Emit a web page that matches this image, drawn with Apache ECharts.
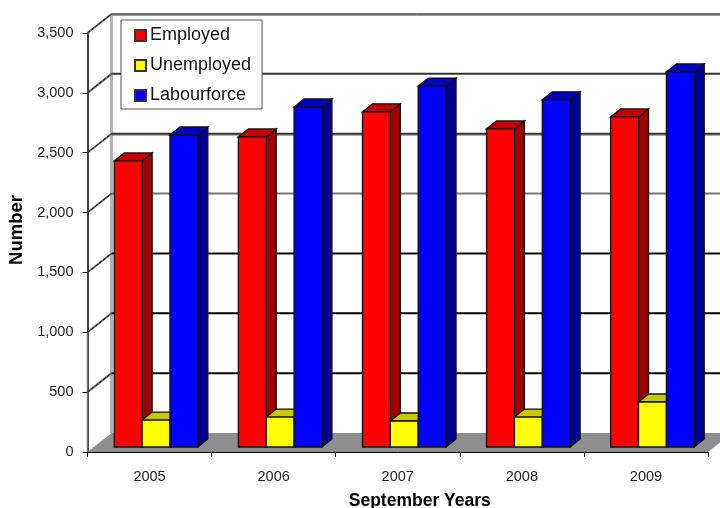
<!DOCTYPE html>
<html>
<head>
<meta charset="utf-8">
<style>html,body{margin:0;padding:0;background:#fff}#chart{width:720px;height:508px}</style>
<script src="https://cdn.jsdelivr.net/npm/echarts@6/dist/echarts.min.js"></script>
</head>
<body>
<div id="chart"></div>
<script>
// Labour market counts for each September year
const years = ['2005', '2006', '2007', '2008', '2009'];
const employed = [2390, 2590, 2800, 2657, 2757];
const unemployed = [225, 250, 217, 250, 376];
const labourforce = [2606, 2840, 3015, 2900, 3133];
const valueTicks = [0, 500, 1000, 1500, 2000, 2500, 3000, 3500];

// Pseudo-3D projection: pixel offset from the front plane to the back wall
const WALL_DX = 24, WALL_DY = -19;
// Bars stand slightly behind the front edge of the floor and have their own depth
const BAR_DX = 6.5, BAR_DY = -5;
const DEPTH_DX = 10, DEPTH_DY = -8;
const BAR_FRACTION = 0.2245;
const LINE = '#111111';

// Back-wall gridline appearance per tick value
const GRID_STYLES = {
  500: { main: '#000000' },
  1000: { main: '#000000' },
  1500: { main: '#000000' },
  2000: { main: '#777777' },
  2500: { main: '#333333', under: '#8a8a8a' },
  3000: { main: '#333333' },
  3500: { main: '#6e6e6e', under: '#999999' }
};

function poly(points, fill) {
  return {
    type: 'polygon',
    shape: { points: points },
    style: { fill: fill, stroke: LINE, lineWidth: 1.3 }
  };
}

function barSeries(name, values, slot, front, top, side) {
  return {
    name: name,
    type: 'custom',
    clip: false,
    z: 5,
    itemStyle: { color: front, borderColor: '#333', borderWidth: 1 },
    data: values.map((v, i) => [i, v]),
    encode: { x: 0, y: 1 },
    renderItem: function (params, api) {
      const cat = api.value(0);
      const width = api.size([1, 0])[0] * BAR_FRACTION;
      const c = api.coord([cat, api.value(1)]);
      const b = api.coord([cat, 0]);
      const x0 = c[0] + BAR_DX + (slot - 1.5) * width;
      const x1 = x0 + width;
      const yt = c[1] + BAR_DY;
      const yb = b[1] + BAR_DY;
      return {
        type: 'group',
        children: [
          poly([[x1, yb], [x1 + DEPTH_DX, yb + DEPTH_DY], [x1 + DEPTH_DX, yt + DEPTH_DY], [x1, yt]], side),
          poly([[x0, yt], [x1, yt], [x1 + DEPTH_DX, yt + DEPTH_DY], [x0 + DEPTH_DX, yt + DEPTH_DY]], top),
          poly([[x0, yb], [x1, yb], [x1, yt], [x0, yt]], front)
        ]
      };
    }
  };
}

// Floor, back wall and the gridlines running over the side and back walls
const wallSeries = {
  type: 'custom',
  clip: false,
  silent: true,
  z: 1,
  data: valueTicks.map(v => [0, v]),
  encode: { y: 1 },
  renderItem: function (params, api) {
    const v = api.value(1);
    const rect = params.coordSys;
    const left = rect.x, right = rect.x + rect.width;
    const y = api.coord([0, v])[1];
    const children = [];
    if (v === 0) {
      children.push({
        type: 'polygon',
        shape: { points: [[left, y], [right, y], [right + WALL_DX, y + WALL_DY], [left + WALL_DX, y + WALL_DY]] },
        style: { fill: '#8f8f8f', stroke: null }
      });
      children.push({
        type: 'line',
        shape: { x1: left + WALL_DX, y1: rect.y + WALL_DY, x2: left + WALL_DX, y2: y + WALL_DY },
        style: { stroke: '#b4b4b4', lineWidth: 3 }
      });
      // The lower stretch of the value axis reads lighter than the rest
      children.push({
        type: 'line',
        shape: { x1: left, y1: api.coord([0, 1000])[1], x2: left, y2: y },
        style: { stroke: '#707070', lineWidth: 1.5 }
      });
      return { type: 'group', children: children };
    }
    const by = y + WALL_DY;
    const s = GRID_STYLES[v];
    if (s.under) {
      children.push({
        type: 'line',
        shape: { x1: left + WALL_DX, y1: by + 1.5, x2: right + WALL_DX, y2: by + 1.5 },
        style: { stroke: s.under, lineWidth: 1 }
      });
    }
    children.push({
      type: 'line',
      shape: { x1: left + WALL_DX, y1: by, x2: right + WALL_DX, y2: by },
      style: { stroke: s.main, lineWidth: 2 }
    });
    children.push({
      type: 'line',
      shape: { x1: left, y1: y, x2: left + WALL_DX, y2: by },
      style: { stroke: '#666', lineWidth: 2 }
    });
    children.push({
      type: 'line',
      shape: { x1: left, y1: y, x2: left + WALL_DX, y2: by },
      style: { stroke: '#000', lineWidth: 1, lineDash: [3, 2] }
    });
    return { type: 'group', children: children };
  }
};

const chart = echarts.init(document.getElementById('chart'));
chart.setOption({
  animation: false,
  backgroundColor: '#fff',
  textStyle: { fontFamily: 'Liberation Sans' },
  grid: { left: 87.5, right: 12, top: 33, bottom: 56, outerBoundsMode: 'none' },
  legend: {
    data: ['Employed', 'Unemployed', 'Labourforce'],
    orient: 'vertical',
    left: 121,
    top: 20,
    padding: [5, 11, 3, 13],
    itemGap: 9,
    itemWidth: 11,
    itemHeight: 11,
    icon: 'rect',
    backgroundColor: '#fff',
    borderColor: '#555',
    borderWidth: 1,
    z: 10,
    textStyle: { fontSize: 18, lineHeight: 21, color: '#111', fontFamily: 'Liberation Sans', padding: [0, 0, 0, -1] }
  },
  xAxis: {
    type: 'category',
    data: years,
    axisLine: { lineStyle: { color: '#000', width: 1 } },
    axisTick: { show: true, length: 5, lineStyle: { color: '#000' } },
    axisLabel: { fontSize: 14.5, color: '#222', margin: 17 },
    name: 'September Years',
    nameLocation: 'middle',
    nameGap: 40,
    nameTextStyle: { fontSize: 17.5, fontWeight: 'bold', color: '#000', padding: [0, 0, 0, 44] }
  },
  yAxis: {
    type: 'value',
    min: 0,
    max: 3500,
    interval: 500,
    axisLine: { show: true, lineStyle: { color: '#000', width: 1.5 } },
    axisTick: { show: true, length: 5, lineStyle: { color: '#000' } },
    axisLabel: { fontSize: 14.5, color: '#222', margin: 14, padding: [4, 0, 0, 0] },
    splitLine: { show: false },
    name: 'Number',
    nameLocation: 'middle',
    nameGap: 58,
    nameTextStyle: { fontSize: 18.5, fontWeight: 'bold', color: '#000', padding: [0, 0, 0, 25] }
  },
  series: [
    wallSeries,
    barSeries('Employed', employed, 0, '#ff0000', '#c00000', '#a00000'),
    barSeries('Unemployed', unemployed, 1, '#ffff00', '#c8c800', '#a8a800'),
    barSeries('Labourforce', labourforce, 2, '#0000ff', '#0000c0', '#000090')
  ]
});
</script>
</body>
</html>
